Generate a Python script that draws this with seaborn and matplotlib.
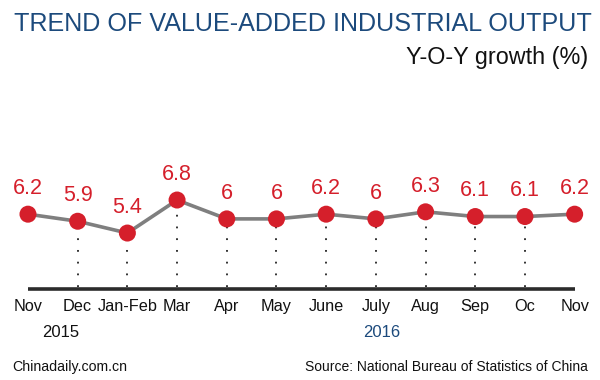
import matplotlib
matplotlib.use('Agg')
import matplotlib.pyplot as plt
import seaborn as sns
import pandas as pd
import numpy as np

# Datos
months = ['Nov', 'Dec', 'Jan-Feb', 'Mar', 'Apr', 'May', 'June', 'July', 'Aug', 'Sep', 'Oc', 'Nov']
growth = [6.2, 5.9, 5.4, 6.8, 6.0, 6.0, 6.2, 6.0, 6.3, 6.1, 6.1, 6.2]
labels = ['6.2', '5.9', '5.4', '6.8', '6', '6', '6.2', '6', '6.3', '6.1', '6.1', '6.2']

df = pd.DataFrame({'pos': np.arange(len(months)), 'month': months, 'growth': growth})

sns.set_theme(style='white')
plt.rcParams['font.family'] = ['Liberation Sans', 'DejaVu Sans']

red = '#d51f2b'
blue = '#1c4a7c'
base = 3.03

fig = plt.figure(figsize=(6, 3.8), dpi=100)
ax = fig.add_axes([0, 0, 1, 1])
ax.set_xlim(-0.563, 11.51)
ax.set_ylim(-0.83, 15.28)
ax.axis('off')

# Linea base
ax.hlines(base, 0, len(months) - 1, color='#2b2b2b', lw=2.6, zorder=1)

# Lineas punteadas verticales (sin la primera y la ultima)
for i in range(1, len(months) - 1):
    ax.plot([i, i], [base + 0.1, growth[i] - 0.25], color='#222222', lw=1.3,
            linestyle=(0, (1, 5.5)), zorder=1)

sns.lineplot(data=df, x='pos', y='growth', ax=ax, color='#7f7f7f', lw=2.6, zorder=2)
sns.scatterplot(data=df, x='pos', y='growth', ax=ax, color=red, s=150,
                edgecolor='none', zorder=3)

for i, (v, t) in enumerate(zip(growth, labels)):
    ax.annotate(t, (i, v), xytext=(0, 11), textcoords='offset points',
                ha='center', va='bottom', fontsize=15.5, color=red)

for i, m in enumerate(months):
    ax.annotate(m, (i, base), xytext=(0, -7), textcoords='offset points',
                ha='center', va='top', fontsize=11.7, color='#111111')

ax.annotate('2015', (1, base), xytext=(-12, -26), textcoords='offset points',
            ha='center', va='top', fontsize=12, color='#111111')
ax.annotate('2016', (7, base), xytext=(4, -26), textcoords='offset points',
            ha='center', va='top', fontsize=12, color=blue)

fig.text(0.024, 0.937, 'TREND OF VALUE-ADDED INDUSTRIAL OUTPUT', fontsize=18.1,
         color=blue, ha='left', va='center')
fig.text(0.98, 0.848, 'Y-O-Y growth (%)', fontsize=16.8, color='#111111',
         ha='right', va='center')
fig.text(0.021, 0.034, 'Chinadaily.com.cn', fontsize=10.2, color='#111111',
         ha='left', va='center')
fig.text(0.98, 0.034, 'Source: National Bureau of Statistics of China', fontsize=10,
         color='#111111', ha='right', va='center')

fig.savefig('out.png', dpi=100, facecolor='white')
